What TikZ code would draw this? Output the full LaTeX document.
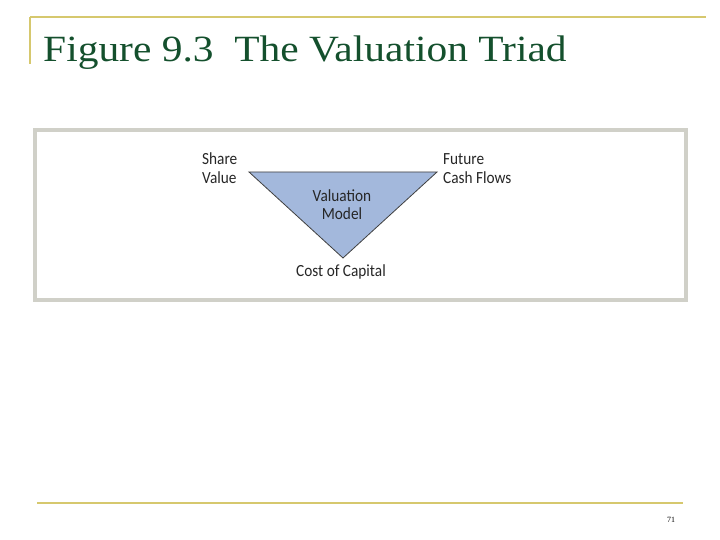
\documentclass[tikz,border=0pt]{standalone}
\usepackage{fontspec}
\setmainfont{Liberation Serif}
\newfontfamily\lab{Carlito}
\definecolor{gold}{RGB}{214,200,110}
\definecolor{ttl}{RGB}{20,80,45}
\definecolor{boxg}{RGB}{208,208,200}
\definecolor{tri}{RGB}{163,184,220}
\begin{document}
\begin{tikzpicture}[x=1pt,y=-1pt,
  lbl/.style={font=\lab\fontsize{17}{19}\selectfont,inner sep=0pt,align=left,text=black!85,xscale=0.9,transform shape}]
\useasboundingbox (0,0) rectangle (720,540);
\draw[gold,line width=2.5pt] (30,17) -- (706,17);
\draw[gold,line width=2.5pt] (30,17) -- (30,64);
\node[anchor=base west,inner sep=0pt,text=ttl,font=\fontsize{37}{40}\selectfont,xscale=1.12,transform shape] (title) at (43,62) {Figure 9.3\ \ The Valuation Triad};
\draw[boxg,line width=4pt] (35,130) rectangle (686,300);
\draw[black!75,fill=tri,line width=0.8pt] (249,172) -- (437,172) -- (343,258) -- cycle;
\node[lbl,anchor=west] (sv) at (202,159) {Share};
\node[lbl,anchor=west] (sv2) at (202,178) {Value};
\node[lbl,anchor=west] (fc) at (443,159) {Future};
\node[lbl,anchor=west] (fc2) at (443,178) {Cash Flows};
\node[lbl] (vm) at (342,196) {Valuation};
\node[lbl] (vm2) at (342,214) {Model};
\node[lbl] (cc) at (341,272) {Cost of Capital};
\draw[gold,line width=2.5pt] (37,503) -- (683,503);
\node[font=\fontsize{8}{9}\selectfont,inner sep=0pt] (pg) at (671,520) {71};
\end{tikzpicture}
\end{document}
